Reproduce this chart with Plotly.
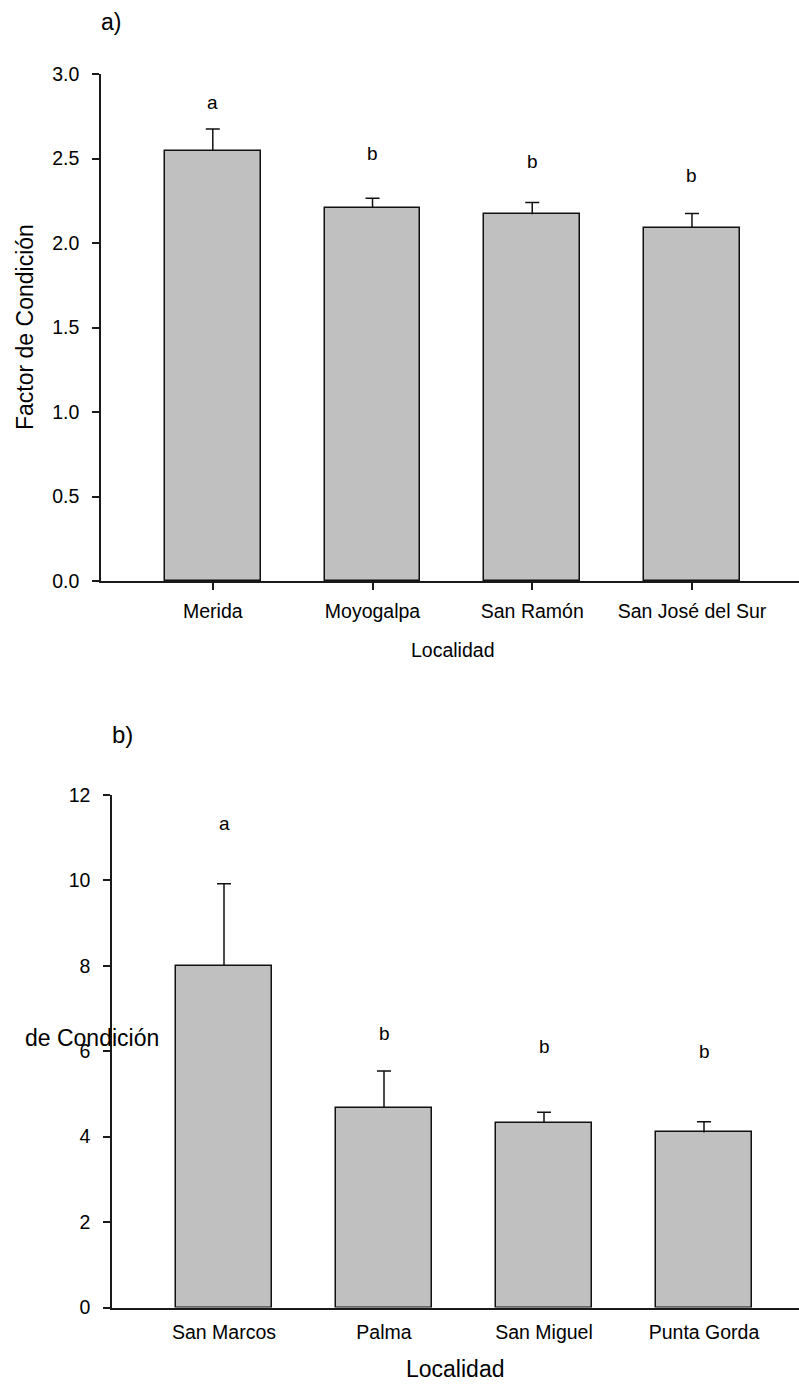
import plotly.graph_objects as go

W, H = 799, 1385
FONT = "Liberation Sans, Arial, Helvetica, sans-serif"

# Panel a) — lake localities
loc_a = ["Merida", "Moyogalpa", "San Ramón", "San José del Sur"]
fc_a = [2.545, 2.21, 2.17, 2.09]
se_a = [0.13, 0.055, 0.07, 0.085]
grp_a = ["a", "b", "b", "b"]
grp_a_y = [2.83, 2.53, 2.48, 2.40]
yticks_a = [0.0, 0.5, 1.0, 1.5, 2.0, 2.5, 3.0]
yticktext_a = ["0.0", "0.5", "1.0", "1.5", "2.0", "2.5", "3.0"]

# Panel b) — island localities
loc_b = ["San Marcos", "Palma", "San Miguel", "Punta Gorda"]
fc_b = [8.0, 4.67, 4.32, 4.10]
se_b = [1.92, 0.87, 0.25, 0.25]
grp_b = ["a", "b", "b", "b"]
grp_b_y = [11.33, 6.42, 6.12, 6.00]
yticks_b = [0, 2, 4, 6, 8, 10, 12]
yticktext_b = ["0", "2", "4", "6", "8", "10", "12"]


def fx(px):
    return px / W


def fy(py):
    return 1 - py / H


INK = "#111111"
BAR = dict(color="#c0c0c0", line=dict(color=INK, width=1.5))


def add_panel(fig, locs, means, errs, xa, ya):
    fig.add_trace(go.Bar(x=locs, y=means, width=0.6, marker=BAR,
                         xaxis=xa, yaxis=ya, showlegend=False,
                         hoverinfo="skip"))
    # upper whiskers: from the bar top up to mean + error
    wx, wy = [], []
    for loc, m, e in zip(locs, means, errs):
        wx += [loc, loc, None]
        wy += [m, m + e, None]
    fig.add_trace(go.Scatter(x=wx, y=wy, mode="lines",
                             line=dict(color=INK, width=1.5),
                             xaxis=xa, yaxis=ya, showlegend=False,
                             hoverinfo="skip"))
    # caps: zero-length error bars drawn at the whisker tips
    tips = [m + e for m, e in zip(means, errs)]
    fig.add_trace(go.Scatter(x=locs, y=tips, mode="markers",
                             marker=dict(size=1, opacity=0),
                             error_y=dict(type="data", array=[0] * len(tips),
                                          color=INK, thickness=1.5, width=7),
                             xaxis=xa, yaxis=ya, showlegend=False,
                             hoverinfo="skip"))


fig = go.Figure()
add_panel(fig, loc_a, fc_a, se_a, "x", "y")
add_panel(fig, loc_b, fc_b, se_b, "x2", "y2")

axis_common = dict(showline=True, linecolor="#1a1a1a", linewidth=1.5,
                   showgrid=False, zeroline=False, automargin=False,
                   tickfont=dict(family=FONT, size=19.5, color="#000"))

fig.update_layout(
    width=W, height=H,
    margin=dict(l=0, r=0, t=0, b=0, autoexpand=False),
    paper_bgcolor="white", plot_bgcolor="white",
    bargap=0,
    xaxis=dict(domain=[fx(101), 1], anchor="y",
               range=[-0.70, 3 + (799 - 692) / 159.67],
               ticks="outside", ticklen=7, tickwidth=1.5, tickcolor="#1a1a1a",
               ticklabelstandoff=5, **axis_common),
    yaxis=dict(domain=[fy(581), fy(74)], anchor="x", range=[0, 3],
               tickvals=yticks_a, ticktext=yticktext_a,
               ticks="outside", ticklen=7, tickwidth=1.5, tickcolor="#1a1a1a",
               ticklabelstandoff=9, **axis_common),
    xaxis2=dict(domain=[fx(112), 1], anchor="y2",
                range=[-0.70, 3 + (799 - 704) / 160.0],
                ticks="", ticklabelstandoff=6, **axis_common),
    yaxis2=dict(domain=[fy(1307.5), fy(795)], anchor="x2", range=[0, 12],
                tickvals=yticks_b, ticktext=yticktext_b,
                ticks="outside", ticklen=7, tickwidth=1.5, tickcolor="#1a1a1a",
                ticklabelstandoff=9, **axis_common),
)

ann = []
# significance letters above each bar
for loc, g, yv in zip(loc_a, grp_a, grp_a_y):
    ann.append(dict(x=loc, y=yv, xref="x", yref="y", text=g, showarrow=False,
                    xanchor="center", yanchor="middle",
                    font=dict(family=FONT, size=19, color="#000")))
for loc, g, yv in zip(loc_b, grp_b, grp_b_y):
    ann.append(dict(x=loc, y=yv, xref="x2", yref="y2", text=g, showarrow=False,
                    xanchor="center", yanchor="middle",
                    font=dict(family=FONT, size=19, color="#000")))


def label(px, py, text, size, angle=0):
    return dict(x=fx(px), y=fy(py), xref="paper", yref="paper", text=text,
                textangle=angle, showarrow=False,
                xanchor="center", yanchor="middle",
                font=dict(family=FONT, size=size, color="#000"))


# panel labels and axis titles
ann += [
    label(111, 22, "a)", 23),
    label(25, 327, "Factor de Condición", 23, -90),
    label(452, 650, "Localidad", 19.5),
    label(123, 734, "b)", 24),
    label(92, 1038, "de Condición", 23),
    label(455, 1369, "Localidad", 23),
]
fig.update_layout(annotations=ann)

fig.write_html("out.html")
